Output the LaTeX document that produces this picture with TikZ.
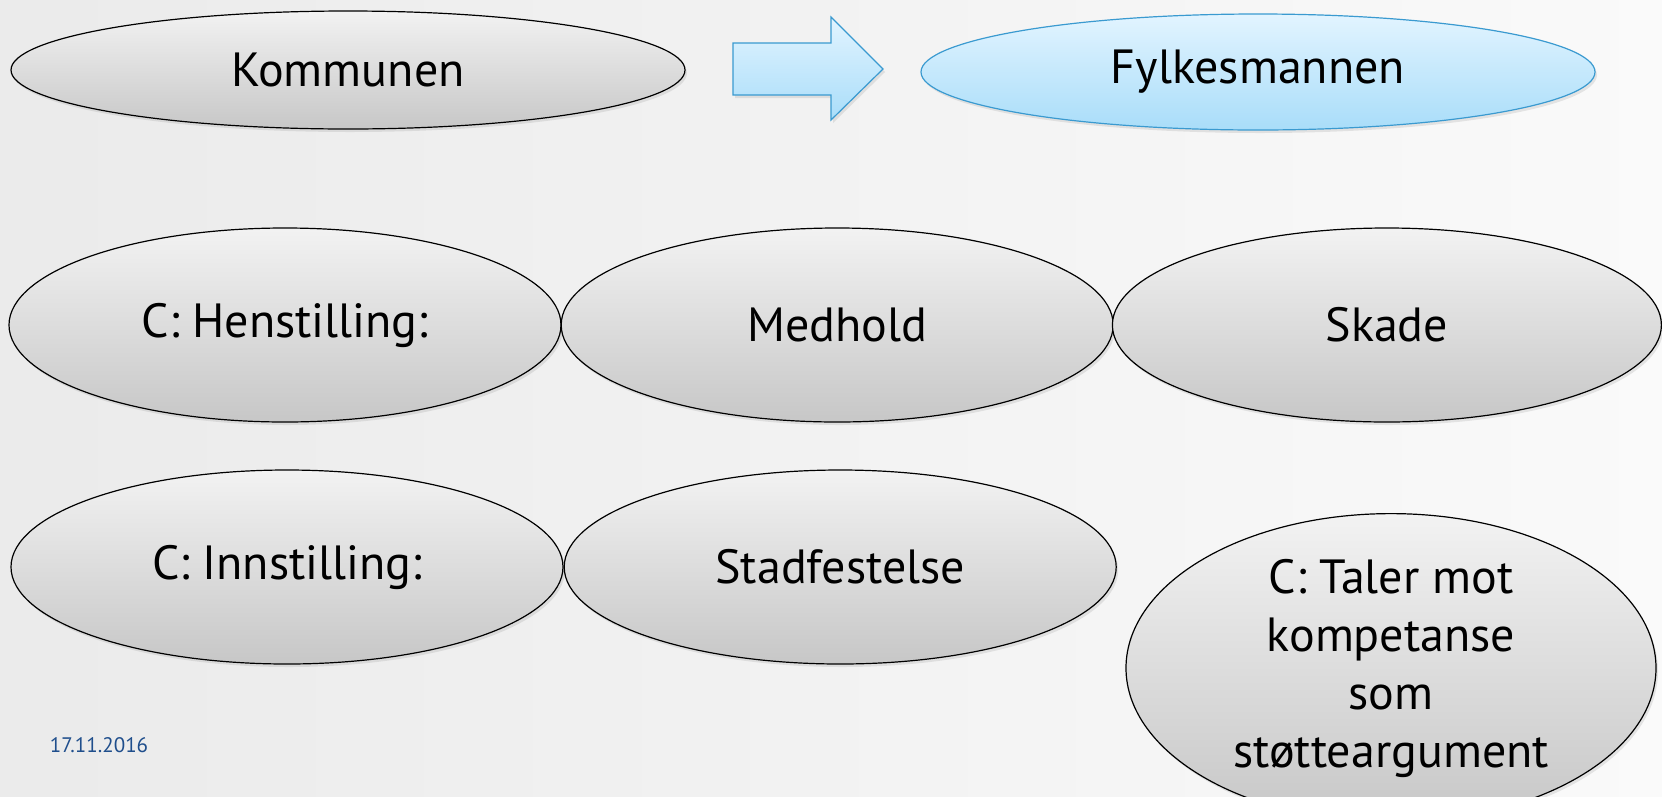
\documentclass[tikz,border=0pt]{standalone}
\usepackage{fontspec}
\setmainfont{PT Sans}
\usepackage{tikz}
\usetikzlibrary{shapes.geometric}
\usetikzlibrary{positioning}
\usetikzlibrary{shadows}

\definecolor{bluefill}{HTML}{A9DDF9}
\definecolor{bluetop}{HTML}{E2F4FF}
\definecolor{blueline}{HTML}{3A9AD0}
\definecolor{datecol}{HTML}{1F4E8C}

\begin{document}
\begin{tikzpicture}[
  x=1pt, y=-1pt,
  font=\fontsize{48}{58}\selectfont
]
\tikzset{
    greynode/.style = {ellipse, draw=black, line width=1.2pt, inner sep=0pt,
        align=center, top color=black!5, bottom color=black!22,
        drop shadow={opacity=0.18, shadow xshift=2pt, shadow yshift=-3pt}},
    bluenode/.style = {greynode, draw=blueline, top color=bluetop, bottom color=bluefill},
    rowA/.style = {minimum width=552pt, minimum height=194pt}
}
% background
\shade[left color=black!8, right color=black!2] (0,0) rectangle (1662,796);
\useasboundingbox (0,0) rectangle (1662,796);

% top row
\node[greynode, minimum width=674pt, minimum height=118pt] (kommune) at (348,70) {Kommunen};
\node[bluenode, minimum width=674pt, minimum height=116pt] (fylke) at (1258,72) {Fylkesmannen};
\coordinate (pil) at (733,69);
\draw[line width=1.2pt, draw=blueline, top color=bluetop, bottom color=bluefill,
      drop shadow={opacity=0.18, shadow xshift=2pt, shadow yshift=-3pt}]
  (pil) ++(0,-26) -- ++(98,0) -- ++(0,-26) -- ++(52,52) -- ++(-52,51)
  -- ++(0,-25) -- ++(-98,0) -- cycle;

% middle row
\node[greynode, rowA] (henst) at (285,325) {C: Henstilling:};
\node[greynode, rowA, right=-1pt of henst] (medhold) {Medhold};
\node[greynode, rowA, right=-2pt of medhold, minimum width=549pt] (skade) {Skade};

% bottom row
\node[greynode, rowA] (innst) at (287,567) {C: Innstilling:};
\node[greynode, rowA, right=0pt of innst] (stadf) {Stadfestelse};
\node[greynode, minimum width=530pt, minimum height=254pt] (taler) at (1391,668)
  {C: Taler mot\\kompetanse\\som\\støtteargument};

% date
\node[text=datecol, font=\fontsize{21}{24}\selectfont] (dato) at (99,745) {17.11.2016};
\end{tikzpicture}
\end{document}
